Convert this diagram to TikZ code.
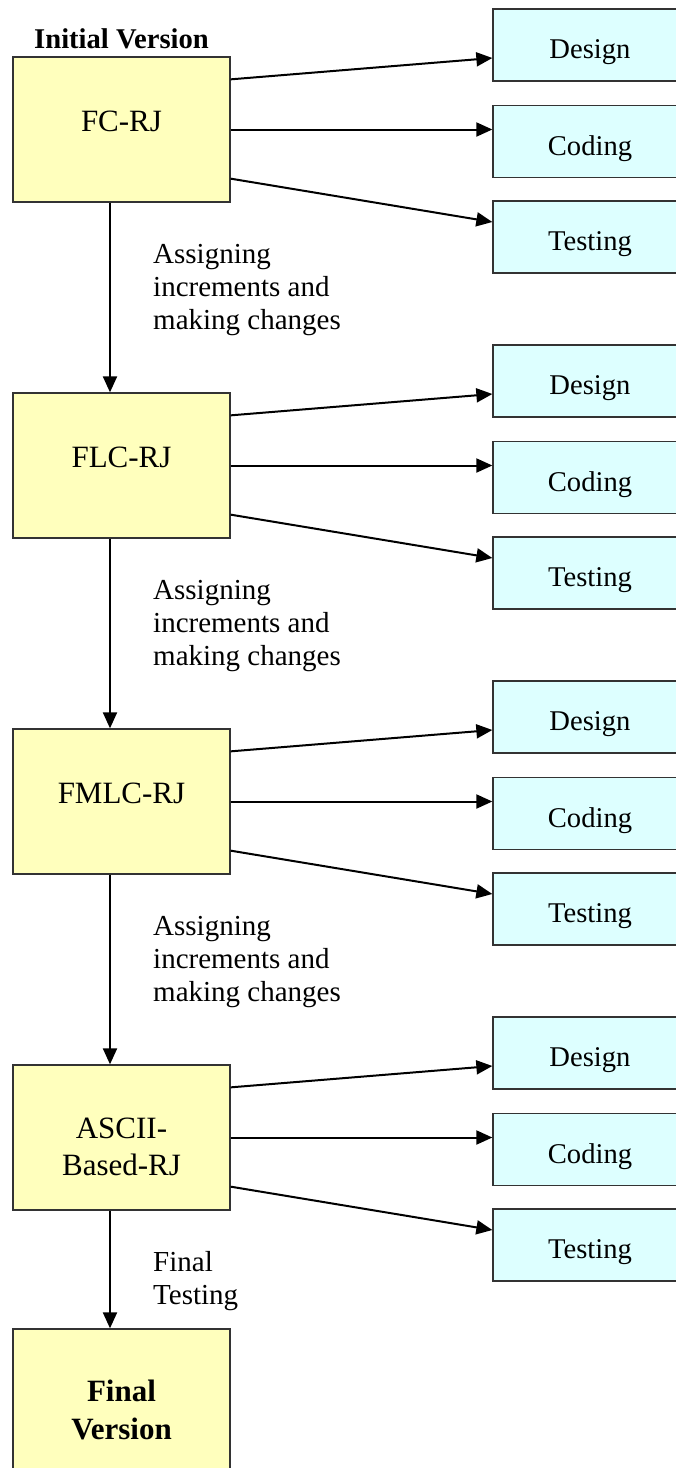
\documentclass[tikz,border=0pt]{standalone}
\usepackage{fontspec}
\setmainfont{Liberation Serif}
\usetikzlibrary{arrows.meta,positioning}

\definecolor{stageyellow}{RGB}{255,255,189}
\definecolor{taskcyan}{RGB}{221,255,255}

\tikzset{
	stage/.style={draw=black!80, line width=1.3pt, fill=stageyellow, minimum width=217pt, minimum height=145pt, inner sep=0pt, align=center, font=\fontsize{31}{37}\selectfont, text height=20.5pt, text depth=17pt},
	twoline/.style={text height=75.5pt, text depth=0pt},
	task/.style={draw=black!80, line width=1.3pt, fill=taskcyan, minimum width=194pt, minimum height=72pt, inner sep=0pt, font=\fontsize{28.6}{33}\selectfont, text height=27.5pt, text depth=0pt},
	note/.style={anchor=west, align=left, inner sep=0pt, font=\fontsize{29}{33}\selectfont},
	flow/.style={-{Triangle[length=16pt,width=14pt]}, line width=2pt}
}

\begin{document}
\begin{tikzpicture}[x=1pt, y=1pt]
		\useasboundingbox (0,0) rectangle (676,-1468);

		% versions
		\node (fc) [stage] at (121.5,-129.5) {FC-RJ};
		\node (initial) [above=7pt of fc, inner sep=0pt, font=\bfseries\fontsize{28.6}{33}\selectfont] {Initial Version};
		\node (flc) [stage] at (121.5,-465.5) {FLC-RJ};
		\node (fmlc) [stage] at (121.5,-801.5) {FMLC-RJ};
		\node (ascii) [stage, twoline] at (121.5,-1137.5) {ASCII-\\Based-RJ};
		\node (final) [stage, twoline, font=\bfseries\fontsize{31}{38}\selectfont] at (121.5,-1401.5) {Final\\Version};

		% tasks
		\node (design1) [task] at (590,-45) {Design};
		\node (coding1) [task] at (590,-141.5) {Coding};
		\node (testing1) [task] at (590,-237) {Testing};
		\node (design2) [task] at (590,-381) {Design};
		\node (coding2) [task] at (590,-477.5) {Coding};
		\node (testing2) [task] at (590,-573) {Testing};
		\node (design3) [task] at (590,-717) {Design};
		\node (coding3) [task] at (590,-813.5) {Coding};
		\node (testing3) [task] at (590,-909) {Testing};
		\node (design4) [task] at (590,-1053) {Design};
		\node (coding4) [task] at (590,-1149.5) {Coding};
		\node (testing4) [task] at (590,-1245) {Testing};

		\draw[flow] ([yshift=-23pt]fc.north east) -- ([yshift=-13pt]design1.west);
		\draw[flow] (fc.east) -- (fc.east -| coding1.west);
		\draw[flow] ([yshift=24pt]fc.south east) -- ([yshift=15pt]testing1.west);
		\draw[flow] ([yshift=-23pt]flc.north east) -- ([yshift=-13pt]design2.west);
		\draw[flow] (flc.east) -- (flc.east -| coding2.west);
		\draw[flow] ([yshift=24pt]flc.south east) -- ([yshift=15pt]testing2.west);
		\draw[flow] ([yshift=-23pt]fmlc.north east) -- ([yshift=-13pt]design3.west);
		\draw[flow] (fmlc.east) -- (fmlc.east -| coding3.west);
		\draw[flow] ([yshift=24pt]fmlc.south east) -- ([yshift=15pt]testing3.west);
		\draw[flow] ([yshift=-23pt]ascii.north east) -- ([yshift=-13pt]design4.west);
		\draw[flow] (ascii.east) -- (ascii.east -| coding4.west);
		\draw[flow] ([yshift=24pt]ascii.south east) -- ([yshift=15pt]testing4.west);

		% increments
		\draw[flow] ([xshift=-11.5pt]fc.south) -- ([xshift=-11.5pt]flc.north);
		\node (note1) [note] at (153,-290) {Assigning\\increments and\\making changes};
		\draw[flow] ([xshift=-11.5pt]flc.south) -- ([xshift=-11.5pt]fmlc.north);
		\node (note2) [note] at (153,-626) {Assigning\\increments and\\making changes};
		\draw[flow] ([xshift=-11.5pt]fmlc.south) -- ([xshift=-11.5pt]ascii.north);
		\node (note3) [note] at (153,-962) {Assigning\\increments and\\making changes};
		\draw[flow] ([xshift=-11.5pt]ascii.south) -- ([xshift=-11.5pt]final.north);
		\node (note4) [note] at (153,-1281) {Final\\Testing};

	\end{tikzpicture}
\end{document}
